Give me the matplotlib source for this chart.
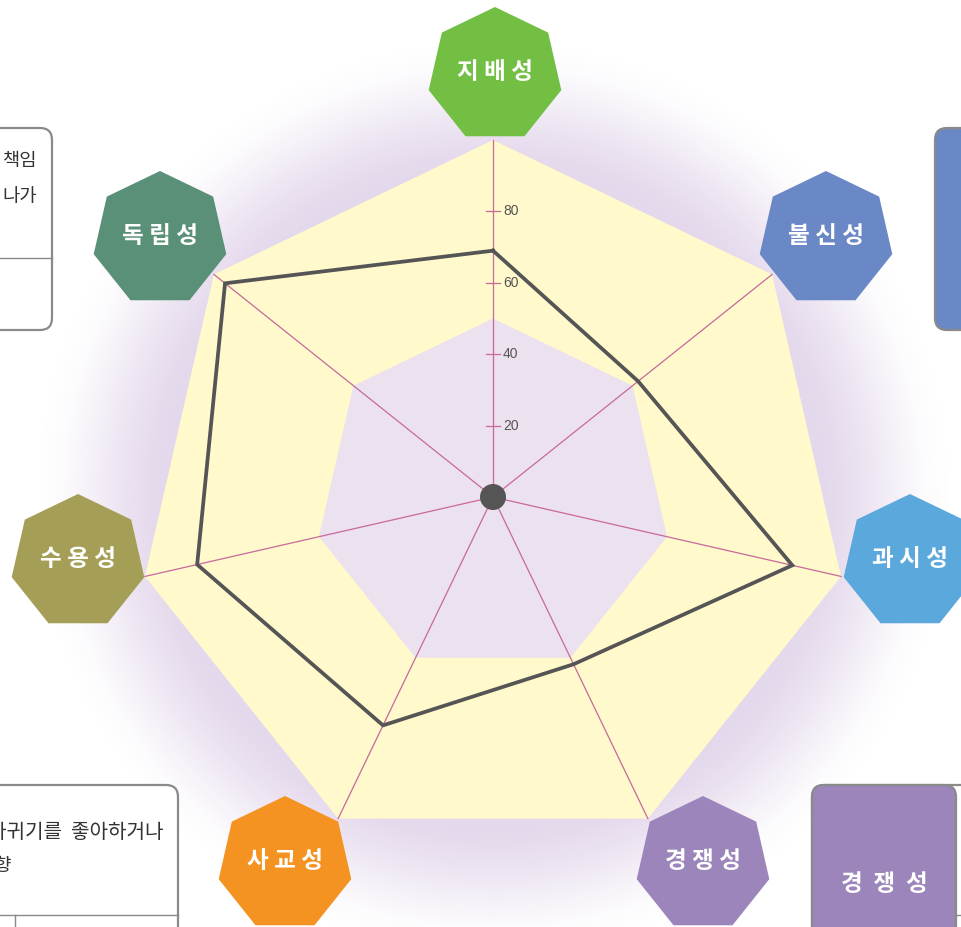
import numpy as np
import matplotlib.pyplot as plt
from matplotlib.patches import Polygon, RegularPolygon, FancyBboxPatch, Circle

plt.rcParams['font.family'] = ['Noto Sans CJK KR', 'DejaVu Sans']

# personality profile scores (0-100)
traits = ['지배성', '불신성', '과시성', '경쟁성', '사교성', '수용성', '독립성']
scores = [69, 52, 86, 52, 71, 85, 96]
trait_colors = ['#72bf44', '#6a88c6', '#5aa8dc', '#9b85bb', '#f59322', '#a59e56', '#5a9078']
ring_ticks = [20, 40, 60, 80]
band_levels = [100, 50]

W, H = 961, 927
cx, cy = 493, 497
k = 3.57  # pixels per score point

n = len(traits)
angles = np.pi / 2 - 2 * np.pi * np.arange(n) / n


def to_xy(vals):
    vals = np.asarray(vals, float)
    return cx + vals * k * np.cos(angles), cy - vals * k * np.sin(angles)


fig = plt.figure(figsize=(W / 100, H / 100), dpi=100)
ax = fig.add_axes([0, 0, 1, 1])
ax.set_xlim(0, W)
ax.set_ylim(H, 0)
ax.axis('off')

# soft lavender halo behind the web
yy, xx = np.mgrid[0:H, 0:W]
r = np.hypot(xx - cx, yy - cy)
t = np.clip((r - 320) / 140, 0, 1)
halo = np.zeros((H, W, 4))
halo[..., :3] = np.array([228, 216, 236]) / 255
halo[..., 3] = 1 - t * t * (3 - 2 * t)
ax.imshow(halo, extent=(0, W, H, 0), zorder=0)

# background bands
for lvl, fc in zip(band_levels, ['#fff9cc', '#ece1ef']):
    bx, by = to_xy([lvl] * n)
    ax.add_patch(Polygon(np.column_stack([bx, by]), closed=True, fc=fc, ec='none', zorder=1))

# spokes
ox, oy = to_xy([100] * n)
for x, y in zip(ox, oy):
    ax.plot([cx, x], [cy, y], color='#c8689b', lw=0.9, zorder=2)

# scale on the top spoke
for v in ring_ticks:
    y = cy - v * k
    ax.plot([cx - 7, cx + 7], [y, y], color='#c8689b', lw=0.9, zorder=2)
    ax.text(cx + 10, y, str(v), fontsize=10, color='#555555', va='center', ha='left',
            family=['Liberation Sans', 'DejaVu Sans'], zorder=3)

# score line
sx, sy = to_xy(scores)
ax.plot(np.append(sx, sx[0]), np.append(sy, sy[0]), color='#555555', lw=2.7,
        solid_joinstyle='miter', zorder=4)
ax.add_patch(Circle((cx, cy), 13, fc='#555555', ec='none', zorder=5))

# trait badges
badge_offsets = [(2, -422), (333, -258), (417, 65), (210, 367),
                 (-208, 367), (-415, 65), (-333, -258)]
for name, col, (dx, dy) in zip(traits, trait_colors, badge_offsets):
    bx, by = cx + dx, cy + dy
    ax.add_patch(RegularPolygon((bx, by), numVertices=7, radius=68, orientation=np.pi,
                                fc=col, ec='none', zorder=6))
    ax.text(bx, by - 3, ' '.join(name), color='white', fontsize=17, fontweight='bold',
            ha='center', va='center', zorder=7)

# neighbouring description cards
box_kw = dict(boxstyle='round,pad=0,rounding_size=12', ec='#8a8a8a', lw=1.6, zorder=6)
txt_kw = dict(fontsize=13.5, color='#333333', va='center', ha='right', zorder=7)

ax.add_patch(FancyBboxPatch((-300, 128), 352, 202, fc='white', **box_kw))
ax.plot([-300, 52], [258, 258], color='#8a8a8a', lw=1.0, zorder=7)
ax.text(37, 160, '책임', **txt_kw)
ax.text(37, 196, '나가', **txt_kw)

ax.add_patch(FancyBboxPatch((935, 128), 300, 202, fc='#6a88c6', **box_kw))
ax.text(1010, 228, '불  신  성', fontsize=17, color='white', fontweight='bold',
        ha='center', va='center', zorder=7)

ax.add_patch(FancyBboxPatch((-300, 785), 478, 300, fc='white', **box_kw))
ax.plot([-300, 178], [915, 915], color='#8a8a8a', lw=1.0, zorder=7)
ax.plot([15, 15], [915, 1000], color='#8a8a8a', lw=1.0, zorder=7)
ax.text(164, 832, '사귀기를  좋아하거나', fontsize=14.5, color='#333333', va='center',
        ha='right', zorder=7)
ax.text(12, 866, '경향', **txt_kw)

ax.add_patch(FancyBboxPatch((812, 785), 400, 300, fc='white', **box_kw))
ax.add_patch(FancyBboxPatch((812, 785), 144, 300, fc='#9b85bb', **box_kw))
ax.plot([956, 1000], [915, 915], color='#8a8a8a', lw=1.0, zorder=7)
ax.text(884, 884, '경  쟁  성', fontsize=17, color='white', fontweight='bold',
        ha='center', va='center', zorder=7)

fig.savefig('out.png', dpi=100)
